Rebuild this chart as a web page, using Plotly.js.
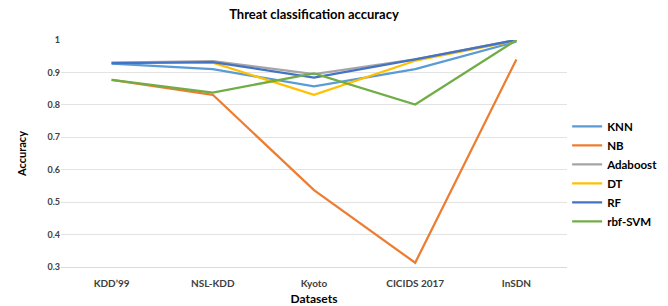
<!DOCTYPE html>
<html><head><meta charset="utf-8">
<script src="https://cdn.plot.ly/plotly-3.0.1.min.js"></script>
<style>body{margin:0;background:#fff}#c{width:668px;height:306px}</style>
</head><body><div id="c"></div>
<script>
const datasets = ["KDD’99", "NSL-KDD", "Kyoto", "CICIDS 2017", "InSDN"];
const knn      = [0.927, 0.910, 0.857, 0.910, 0.995];
const nb       = [0.877, 0.831, 0.537, 0.313, 0.940];
const adaboost = [0.930, 0.935, 0.895, 0.940, 1.000];
const dt       = [0.930, 0.930, 0.831, 0.936, 0.998];
const rf       = [0.929, 0.932, 0.884, 0.940, 1.000];
const svm      = [0.877, 0.838, 0.897, 0.801, 1.000];
const seriesNames = ["KNN", "NB", "Adaboost", "DT", "RF", "rbf-SVM"];
const seriesVals = [knn, nb, adaboost, dt, rf, svm];
const colors = ["#5B9BD5", "#ED7D31", "#A5A5A5", "#FFC000", "#4472C4", "#70AD47"];
const yTicks = [0.3, 0.4, 0.5, 0.6, 0.7, 0.8, 0.9, 1];

const traces = seriesNames.map((n, i) => ({
  type: "scatter", mode: "lines", name: n, x: datasets, y: seriesVals[i],
  line: {color: colors[i], width: 2.25}
}));
const order = [2, 0, 1, 3, 4, 5];
const data = order.map(i => traces[i]);
data.forEach(t => t.legendrank = seriesNames.indexOf(t.name) + 1);

const fam = "Lato, 'Open Sans', sans-serif";
const layout = {
  width: 668, height: 306,
  margin: {l: 61, r: 101, t: 40, b: 39},
  paper_bgcolor: "#fff", plot_bgcolor: "#fff",
  title: {text: "Threat classification accuracy", x: 0.5, xref: "paper", y: 0.952, yanchor: "middle",
    font: {family: fam, size: 13, color: "#000", weight: "bold"}},
  xaxis: {type: "category", range: [-0.5, 4.5], showgrid: false, zeroline: false,
    showline: true, linecolor: "#d9d9d9", linewidth: 1, ticks: "", ticklabelstandoff: 7,
    tickfont: {family: fam, size: 10, color: "#404040", weight: "bold"},
    title: {text: "Datasets", font: {family: fam, size: 12, color: "#000", weight: "bold"}, standoff: 7}},
  yaxis: {range: [0.3, 1], tickvals: yTicks, ticktext: yTicks.map(v => String(v)),
    showgrid: true, gridcolor: "#e3e3e3", gridwidth: 1, zeroline: false, showline: false, ticks: "",
    tickfont: {family: fam, size: 9, color: "#404040", weight: "bold"},
    title: {text: "Accuracy", font: {family: fam, size: 11, color: "#000", weight: "bold"}, standoff: 18}},
  legend: {xref: "container", yref: "container", x: 0.849, xanchor: "left", y: 0.634, yanchor: "top",
    bgcolor: "rgba(0,0,0,0)",
    font: {family: fam, size: 11.5, color: "#000", weight: "bold"}, itemwidth: 30, tracegroupgap: 0},
  showlegend: true
};
Plotly.newPlot("c", data, layout, {staticPlot: true, displayModeBar: false});
</script></body></html>
